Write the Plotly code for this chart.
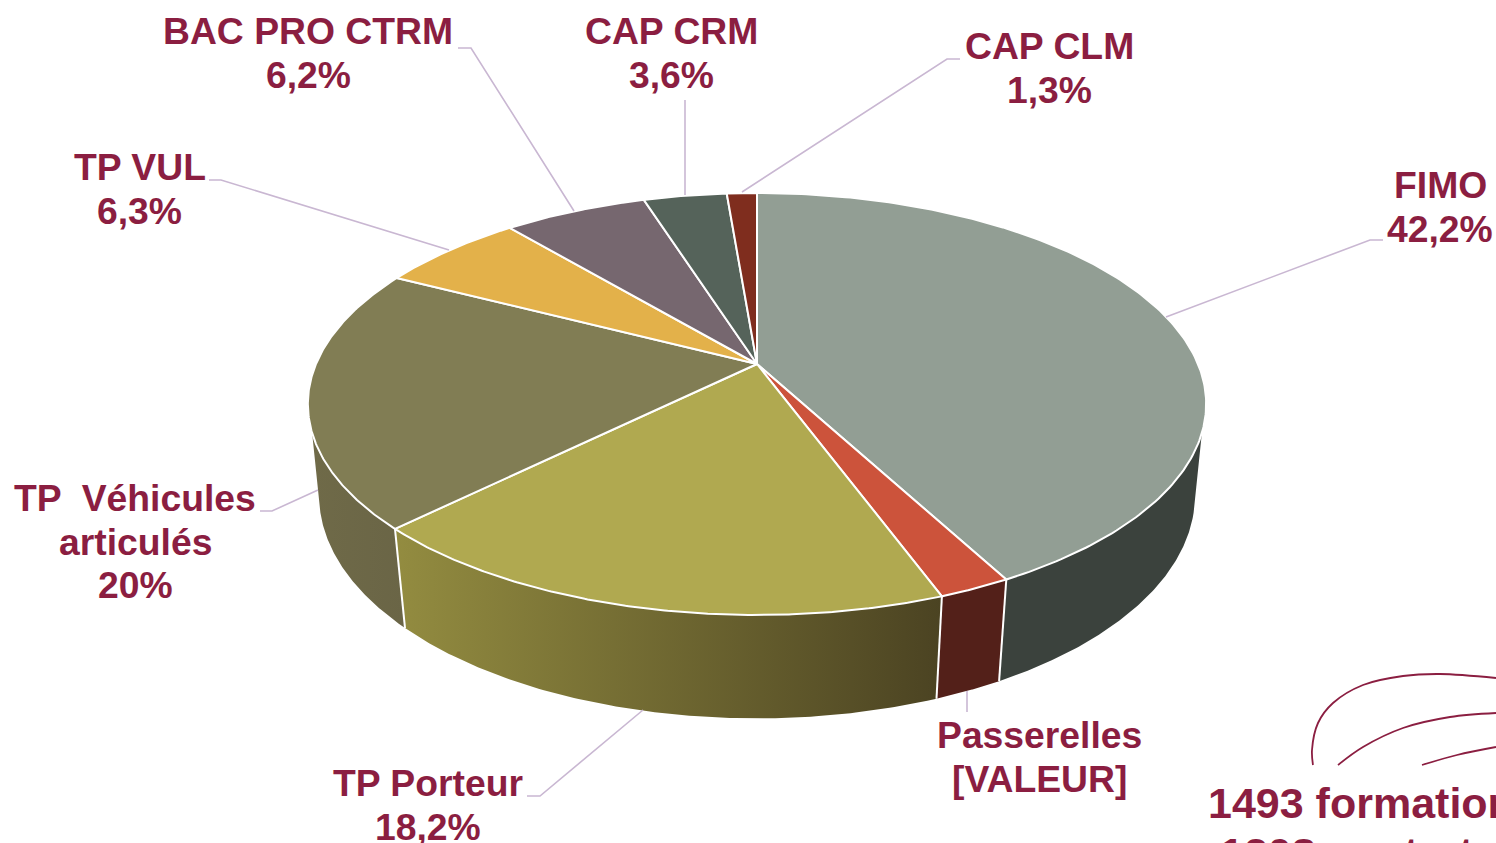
import numpy as np
import plotly.graph_objects as go

categories = ["FIMO", "Passerelles", "TP Porteur", "TP Véhicules articulés", "TP VUL",
              "BAC PRO CTRM", "CAP CRM", "CAP CLM"]
values = [42.2, 2.2, 18.2, 20.0, 6.3, 6.2, 3.6, 1.3]
top_colors = ["#929E94", "#CC533B", "#B0A950", "#817D54", "#E3B14A", "#76676F", "#55635A", "#7F2D1E"]
wall_left = ["#3B423D", "#532019", "#938C40", "#6F6A48", None, None, None, None]
wall_right = ["#3B423D", "#532019", "#4B4322", "#6A6546", None, None, None, None]

label_lines = [
    ["FIMO", "42,2%"],
    ["Passerelles", "[VALEUR]"],
    ["TP Porteur", "18,2%"],
    ["TP  Véhicules", "articulés", "20%"],
    ["TP VUL", "6,3%"],
    ["BAC PRO CTRM", "6,2%"],
    ["CAP CRM", "3,6%"],
    ["CAP CLM", "1,3%"],
]
label_first_line = [(1440, 185), (1039, 735), (427.5, 783), (135, 498), (139.5, 167), (308, 31), (671.5, 31), (1049, 46)]
leaders = [
    [(1166, 317), (1370, 240), (1383, 240)],
    [(967, 691), (967, 712)],
    [(643, 710), (540, 796), (527, 796)],
    [(318, 490), (272, 511), (260, 511)],
    [(449, 250), (221, 180), (209, 180)],
    [(574, 211), (471, 48), (458, 48)],
    [(685, 195), (685, 100)],
    [(742, 192), (947, 59), (960, 59)],
]
note_lines = ["1493 formations", "1208 contrats"]
note_curves = [
    [(1313, 765), (1312, 750), (1318, 723), (1333, 703), (1363, 685), (1403, 676), (1440, 674), (1496, 678)],
    [(1338, 765), (1363, 747), (1403, 728), (1450, 717), (1496, 713)],
    [(1422, 765), (1457, 755), (1496, 747)],
]

# Projection of the tilted disc
CX, CY = 757.0, 364.0
A, B, K = 441.0, 203.4, 0.1896
DEPTH_W, DEPTH_H = 0.0247, 92.5
WALL_TOP = (108.6, 251.4)
WALL_BOTTOM = (105.0, 255.0)
TEXT = "#8B1E41"
LEADER = "#C9B7D2"
FONT = "Liberation Sans, Arial, sans-serif"


def project(theta_deg, lower=False):
    t = np.radians(theta_deg)
    s, c = np.sin(t), np.cos(t)
    if lower:
        w = 1 + K * c + DEPTH_W
        return CX + A * s / w, CY + (-B * c + DEPTH_H) / w
    w = 1 + K * c
    return CX + A * s / w, CY - B * c / w


edges = np.concatenate([[0], np.cumsum(values)]) / np.sum(values) * 360
fig = go.Figure()

# Walls, front part only
for i, cat in enumerate(categories):
    lo_t, hi_t = max(edges[i], WALL_TOP[0]), min(edges[i + 1], WALL_TOP[1])
    if hi_t <= lo_t:
        continue
    lo_b, hi_b = max(edges[i], WALL_BOTTOM[0]), min(edges[i + 1], WALL_BOTTOM[1])
    xt, yt = project(np.linspace(lo_t, hi_t, 120))
    xb, yb = project(np.linspace(hi_b, lo_b, 120), lower=True)
    x = np.concatenate([xt, xb, xt[:1]])
    y = np.concatenate([yt, yb, yt[:1]])
    fig.add_trace(go.Scatter(
        x=x, y=y, mode="lines", fill="toself", name=cat, showlegend=False, hoverinfo="skip",
        line=dict(width=0),
        fillgradient=dict(type="horizontal", start=float(x.min()), stop=float(x.max()),
                          colorscale=[[0, wall_left[i]], [1, wall_right[i]]]),
    ))

# Seams between walls
for e in edges[1:-1]:
    if WALL_TOP[0] < e < WALL_TOP[1]:
        xt, yt = project(e)
        xb, yb = project(e, lower=True)
        fig.add_trace(go.Scatter(x=[xt, xb], y=[yt, yb], mode="lines", showlegend=False, hoverinfo="skip",
                                 line=dict(color="white", width=2)))

# Top faces
for i, cat in enumerate(categories):
    th = np.linspace(edges[i], edges[i + 1], 200)
    xt, yt = project(th)
    fig.add_trace(go.Scatter(
        x=np.concatenate([[CX], xt, [CX]]), y=np.concatenate([[CY], yt, [CY]]),
        mode="lines", fill="toself", fillcolor=top_colors[i], name=cat, showlegend=False,
        line=dict(color="white", width=2), hovertemplate=f"{cat}: {values[i]}%<extra></extra>",
    ))

# Leader lines
for pts in leaders:
    fig.add_trace(go.Scatter(x=[p[0] for p in pts], y=[p[1] for p in pts], mode="lines",
                             line=dict(color=LEADER, width=1.6), showlegend=False, hoverinfo="skip"))

# Decorative curves
for pts in note_curves:
    fig.add_trace(go.Scatter(x=[p[0] for p in pts], y=[p[1] for p in pts], mode="lines",
                             line=dict(color=TEXT, width=1.8, shape="spline", smoothing=1.0),
                             showlegend=False, hoverinfo="skip"))

# Labels
annotations = []
for lines, (lx, ly) in zip(label_lines, label_first_line):
    for j, txt in enumerate(lines):
        annotations.append(dict(x=lx, y=ly + j * 43.6, text=f"<b>{txt}</b>", showarrow=False,
                                xanchor="center", yanchor="middle", xref="x", yref="y",
                                font=dict(family=FONT, size=37.3, color=TEXT)))
annotations.append(dict(x=1373, y=803, text=f"<b>{note_lines[0]}</b>", showarrow=False,
                        xanchor="center", yanchor="middle", xref="x", yref="y",
                        font=dict(family=FONT, size=43, color=TEXT)))
annotations.append(dict(x=1358, y=827, text=f"<b>{note_lines[1]}</b>", showarrow=False,
                        xanchor="center", yanchor="top", xref="x", yref="y",
                        font=dict(family=FONT, size=43, color=TEXT)))

fig.update_layout(
    width=1496, height=843, margin=dict(l=0, r=0, t=0, b=0),
    paper_bgcolor="white", plot_bgcolor="white", showlegend=False,
    xaxis=dict(range=[0, 1496], visible=False, fixedrange=True),
    yaxis=dict(range=[843, 0], visible=False, fixedrange=True),
    annotations=annotations,
)
fig.write_html("out.html", post_script="document.body.style.margin='0';document.body.style.overflow='hidden';",
               config={"displayModeBar": False})
